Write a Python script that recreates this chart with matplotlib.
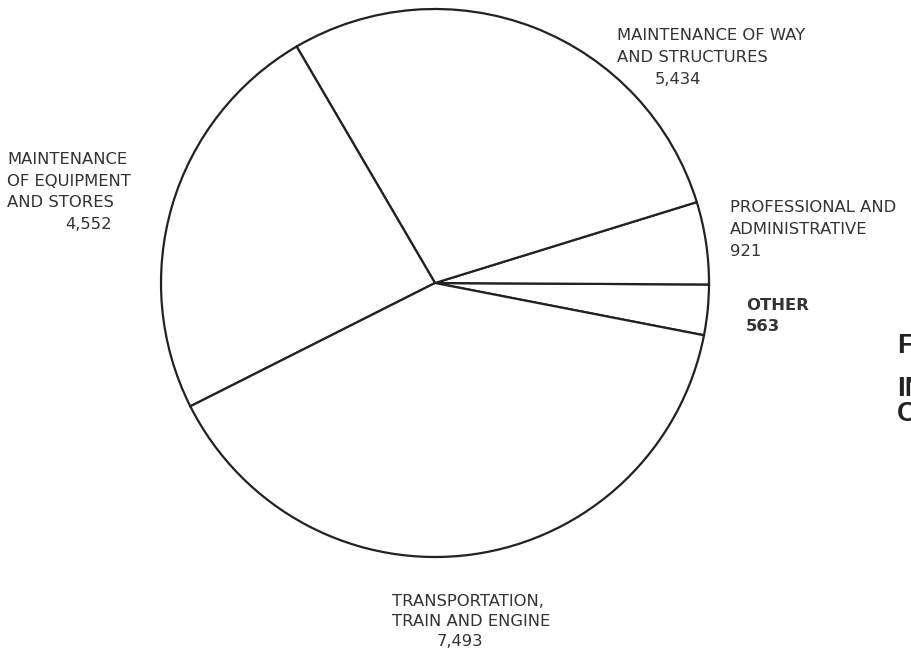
import matplotlib
matplotlib.use("Agg")
import matplotlib.pyplot as plt

categories = ["OTHER", "PROFESSIONAL AND\nADMINISTRATIVE", "MAINTENANCE OF WAY\nAND STRUCTURES",
              "MAINTENANCE\nOF EQUIPMENT\nAND STORES", "TRANSPORTATION,\nTRAIN AND ENGINE"]
values = [563, 921, 5434, 4552, 7493]
value_labels = ["563", "921", "5,434", "4,552", "7,493"]

W, H = 912, 654
fig = plt.figure(figsize=(W / 100, H / 100), dpi=100)
ax = fig.add_axes([0, 0, 1, 1])

ax.pie(values, startangle=-11, counterclock=True, center=(435, H - 283), radius=274,
       wedgeprops=dict(facecolor="white", edgecolor="#222222", linewidth=1.6),
       frame=True)
ax.set_xlim(0, W)
ax.set_ylim(0, H)
ax.set_aspect("equal")
ax.axis("off")

txt = dict(fontsize=11.8, color="#333333", va="center", ha="left", family="DejaVu Sans")

def put(x, y, s, **kw):
    d = dict(txt)
    d.update(kw)
    ax.text(x, H - y, s, **d)

# Maintenance of way
l = categories[2].split("\n")
put(617, 35, l[0]); put(617, 57, l[1]); put(655, 79, value_labels[2])
# Equipment
l = categories[3].split("\n")
put(7, 160, l[0]); put(7, 182, l[1]); put(7, 203, l[2]); put(65, 225, value_labels[3])
# Professional
l = categories[1].split("\n")
put(730, 208, l[0]); put(730, 230, l[1]); put(730, 252, value_labels[1])
# Other
put(746, 306, categories[0], fontweight="bold")
put(746, 327, value_labels[0], fontweight="bold")
# Transportation
l = categories[4].split("\n")
put(392, 602, l[0]); put(392, 622, l[1]); put(437, 642, value_labels[4])

# Cropped title on the right edge (cut off in the original scan)
title_kw = dict(fontsize=20, color="#222222", fontweight="bold", va="baseline", ha="left",
                family="Liberation Sans")
ax.text(897, H - 353, "F", **title_kw)
ax.text(897, H - 396, "IN", **title_kw)
ax.text(897, H - 421, "C", **title_kw)

fig.savefig("out.png", dpi=100)
